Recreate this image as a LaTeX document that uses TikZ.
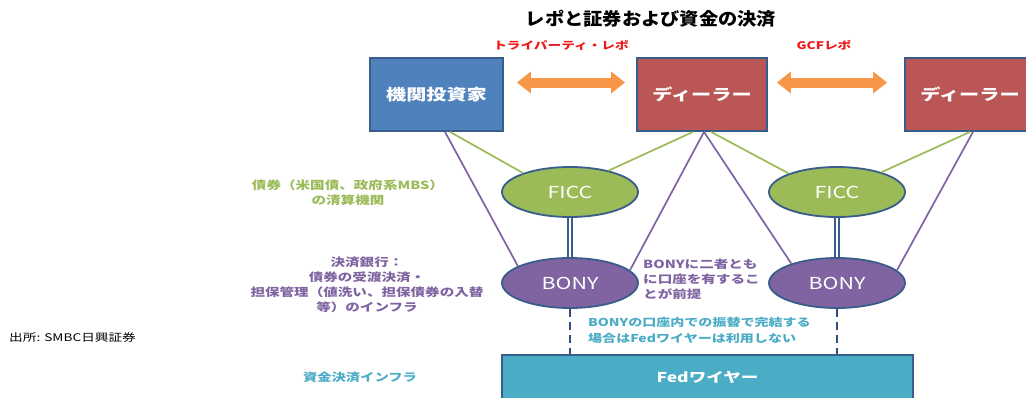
\documentclass[tikz,border=0pt]{standalone}
\usepackage{fontspec}
\setmainfont{Noto Sans CJK JP}[FakeStretch=1.3]
\newfontfamily\titlefont{Noto Sans CJK JP}[FakeStretch=1.1]
\usetikzlibrary{shapes.geometric,arrows.meta}
\definecolor{cBorder}{HTML}{385D8A}
\definecolor{cInst}{HTML}{4F81BD}
\definecolor{cDeal}{HTML}{BB5656}
\definecolor{cOrange}{HTML}{F79646}
\definecolor{cGreen}{HTML}{9BBB59}
\definecolor{cPurple}{HTML}{8064A2}
\definecolor{cTeal}{HTML}{4BACC6}
\definecolor{cDash}{HTML}{2F4F7F}
\definecolor{cRed}{HTML}{F01818}
\tikzset{
  box/.style={draw=cBorder, line width=1.8pt, minimum height=73pt, inner sep=0pt, text=white, font=\bfseries\fontsize{15.5}{18}\selectfont},
  ell/.style={ellipse, draw=cBorder, line width=1.8pt, minimum width=136pt, minimum height=50pt, inner sep=0pt, text=white, font=\fontsize{16.5}{18}\selectfont},
  biarrow/.style={draw=cOrange, line width=10pt, {Triangle[length=14pt,width=21pt]}-{Triangle[length=14pt,width=21pt]}},
  gline/.style={draw=cGreen, line width=1.7pt},
  pline/.style={draw=cPurple, line width=1.7pt},
  dbl/.style={draw=cBorder, double=white, line width=2pt, double distance=2.2pt},
  dashline/.style={draw=cDash, line width=2pt, dash pattern=on 8pt off 5pt},
  note/.style={font=\bfseries\fontsize{11.2}{15}\selectfont, inner sep=0pt},
}
\begin{document}
\begin{tikzpicture}[x=1pt,y=-1pt]
\useasboundingbox (0,0) rectangle (1026,397);
\clip (0,0) rectangle (1026,397);
\fill[white] (0,0) rectangle (1026,397);

% title
\node[inner sep=0pt, font=\titlefont\bfseries\fontsize{17.5}{20}\selectfont] (title) at (651,19) {レポと証券および資金の決済};

% boxes
\node[box, fill=cInst, minimum width=133pt] (inst) at (436.5,94.5) {機関投資家};
\node[box, fill=cDeal, minimum width=130pt] (d1) at (702,94.5) {ディーラー};
\node[box, fill=cDeal, minimum width=130pt] (d2) at (970,94.5) {ディーラー};

% repo labels
\node[note, text=cRed, font=\bfseries\fontsize{10.5}{12}\selectfont] (lab1) at (561,45) {トライパーティ・レポ};
\node[note, text=cRed, font=\bfseries\fontsize{10.5}{12}\selectfont] (lab2) at (824,45) {GCFレポ};

% orange arrows
\draw[biarrow, shorten <=13pt, shorten >=11pt] ([yshift=12pt]inst.east) -- ([yshift=12pt]d1.west);
\draw[biarrow, shorten <=9pt, shorten >=17pt] ([yshift=12pt]d1.east) -- ([yshift=12pt]d2.west);

% ellipses
\node[ell, fill=cGreen] (ficc1) at (570,192) {FICC};
\node[ell, fill=cGreen] (ficc2) at (837,192) {FICC};
\node[ell, fill=cPurple] (bony1) at (570,283) {BONY};
\node[ell, fill=cPurple] (bony2) at (837,283) {BONY};

% fed wire
\node[draw=cBorder, fill=cTeal, line width=2pt, minimum width=411pt, minimum height=45pt, inner sep=0pt, text=white, font=\bfseries\fontsize{13.5}{16}\selectfont] (fed) at (707.5,377.5) {Fedワイヤー};

% green lines (securities clearing)
\draw[gline] ([xshift=13.5pt]inst.south) -- (ficc1.158);
\draw[gline] ([xshift=-9pt]d1.south) -- (ficc1.29);
\draw[gline] ([xshift=9pt]d1.south) -- (ficc2.159);
\draw[gline] (d2.south) -- (ficc2.24);

% purple lines (settlement bank)
\draw[pline] ([xshift=8.5pt]inst.south) -- (bony1.162);
\draw[pline] ([xshift=2pt]d1.south) -- (bony1.12);
\draw[pline] ([xshift=2pt]d1.south) -- (bony2.157);
\draw[pline] ([xshift=3pt]d2.south) -- (bony2.12);

% double links FICC-BONY
\draw[dbl] (ficc1.south) -- (bony1.north);
\draw[dbl] (ficc2.south) -- (bony2.north);

% dashed links BONY-Fed
\draw[dashline] (bony1.south) -- (bony1.south |- fed.north);
\draw[dashline] (bony2.south) -- (bony2.south |- fed.north);

% annotations
\node[note, text=cGreen, align=center] (tgreen) at (348,192.5) {債券（米国債、政府系MBS）\\の清算機関};
\node[note, text=cPurple, align=center] (tpurple) at (367,284.5) {決済銀行：\\債券の受渡決済・\\担保管理（値洗い、担保債券の入替\\等）のインフラ};
\node[note, text=cPurple, align=left, anchor=west] (tbony) at (643,279) {BONYに二者とも\\に口座を有するこ\\とが前提};
\node[note, text=cTeal, align=left, anchor=west, font=\bfseries\fontsize{10.8}{16}\selectfont] (tteal) at (588,330) {BONYの口座内での振替で完結する\\場合はFedワイヤーは利用しない};
\node[note, text=cTeal, font=\bfseries\fontsize{11}{13}\selectfont] (tfund) at (360,377) {資金決済インフラ};
\node[inner sep=0pt, anchor=west, font=\fontsize{10.5}{12}\selectfont] (src) at (9,338) {出所: SMBC日興証券};
\end{tikzpicture}
\end{document}
